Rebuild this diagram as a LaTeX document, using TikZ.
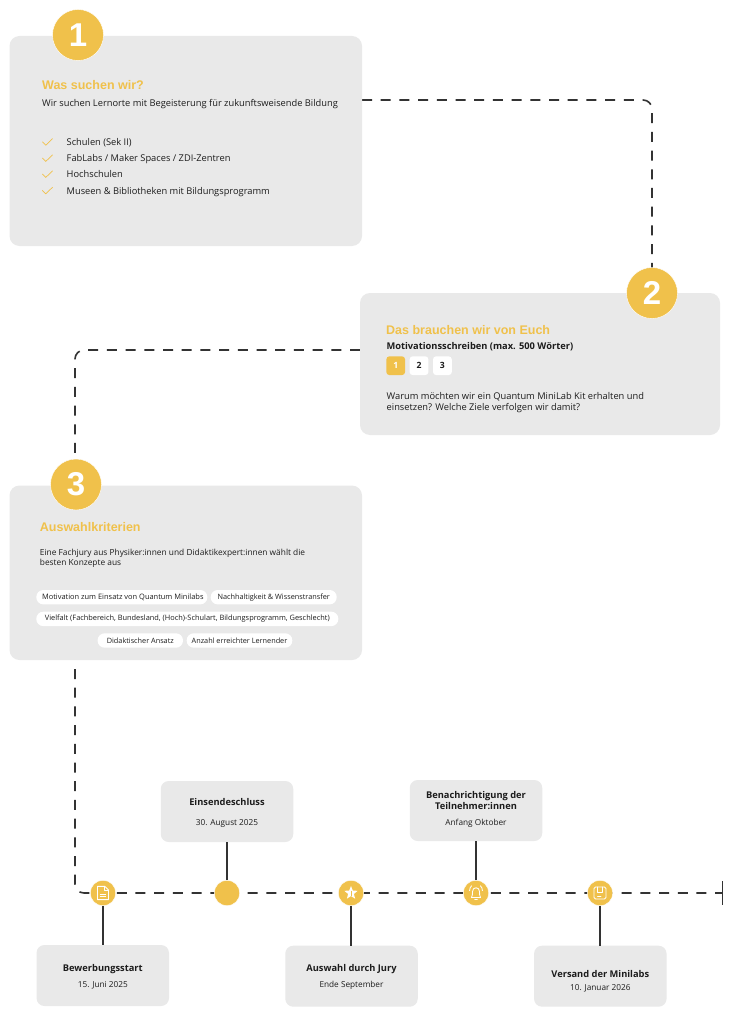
\documentclass[tikz,border=0pt]{standalone}
\usepackage{fontspec}
\setmainfont{Open Sans}
\newfontfamily\headfont{Liberation Sans}
\usetikzlibrary{shapes.geometric}
\definecolor{accent}{HTML}{F0C14B}
\definecolor{panel}{HTML}{E9E9E9}
\definecolor{ink}{HTML}{1C1C1C}
\definecolor{linec}{HTML}{333333}
\tikzset{
  x=1pt,y=-1pt,
  panelbox/.style={fill=panel,rounded corners=10pt,inner sep=0pt,minimum width=#1},
  numdisc/.style={circle,fill=accent,draw=white,line width=.4pt,minimum size=51pt,inner sep=0pt,text=white,font=\headfont\bfseries\fontsize{33}{33}\selectfont},
  tlbox/.style={fill=panel,rounded corners=8pt,inner sep=0pt,minimum width=132.5pt,minimum height=61pt},
  tldisc/.style={circle,fill=accent,draw=white,line width=.4pt,minimum size=25.5pt,inner sep=0pt},
  dashline/.style={draw=linec,line width=1.6pt,dash pattern=on 10pt off 8.7pt,rounded corners=9pt},
  stem/.style={draw=linec,line width=1.6pt},
  head/.style={anchor=base west,inner sep=0pt,text=accent,font=\headfont\bfseries\fontsize{12.5}{14}\selectfont},
  body/.style={anchor=base west,inner sep=0pt,text=ink,font=\fontsize{9.3}{11}\selectfont},
  pill/.style={fill=white,rounded corners=7pt,inner sep=0pt,minimum height=14.4pt,text=ink,font=\fontsize{7.3}{8}\selectfont},
  sq/.style={rounded corners=3pt,minimum size=18.7pt,inner sep=0pt,font=\bfseries\fontsize{8.6}{9}\selectfont},
  tltitle/.style={anchor=base,inner sep=0pt,text=ink,font=\bfseries\fontsize{9.3}{10}\selectfont},
  tldate/.style={anchor=base,inner sep=0pt,text=ink,font=\fontsize{8.25}{9}\selectfont},
  chk/.style={draw=accent,line width=.7pt},
  icon/.style={draw=white,line width=.85pt,line join=round,line cap=round},
}
\begin{document}
\begin{tikzpicture}
\useasboundingbox[fill=white] (0,0) rectangle (740,1024);

% connector ends
\coordinate (d1s) at (362,100);
\coordinate (d1c) at (652,100);
\coordinate (d1e) at (652,268);
\coordinate (d2s) at (360,350);
\coordinate (d2c) at (75,350);
\coordinate (d2e) at (75,460);
\coordinate (d3s) at (75,669);
\coordinate (d3c) at (75,893);
\coordinate (d3e) at (722.5,893);
\coordinate (tick1) at (722.5,881);
\coordinate (tick2) at (722.5,905);

\draw[dashline] (d1s) -- (d1c) -- (d1e);
\draw[dashline] (d2s) -- (d2c) -- (d2e);
\draw[dashline] (d3s) -- (d3c) -- (d3e);
\draw[stem] (tick1) -- (tick2);

% panels
\node[panelbox=352.5pt,minimum height=210pt] (box1) at (185.75,141) {};
\node[panelbox=360pt,minimum height=142pt] (box2) at (540,364) {};
\node[panelbox=352.5pt,minimum height=174.5pt] (box3) at (185.75,572.75) {};

\node[numdisc] (n1) at (78,35) {1};
\node[numdisc] (n2) at (652,293) {2};
\node[numdisc] (n3) at (76,484.5) {3};

% panel 1
\node[head] (h1) at (42,90) {Was suchen wir?};
\node[body] (t1) at (42,106.7) {Wir suchen Lernorte mit Begeisterung für zukunftsweisende Bildung};
\node[body] (l1) at (66.5,145.7) {Schulen (Sek II)};
\node[body] (l2) at (66.5,161.9) {FabLabs / Maker Spaces / ZDI-Zentren};
\node[body] (l3) at (66.5,178) {Hochschulen};
\node[body] (l4) at (66.5,194.4) {Museen \& Bibliotheken mit Bildungsprogramm};
\foreach \yy in {145.2,161.4,177.4,193.8}{
  \draw[chk] (42.3,\yy-3.4) -- (45.8,\yy) -- (52.6,\yy-6.6);
}

% panel 2
\node[head] (h2) at (386,334) {Das brauchen wir von Euch};
\node[body,font=\bfseries\fontsize{9.3}{11}\selectfont] (t2) at (386.3,349) {Motivationsschreiben (max. 500 Wörter)};
\node[sq,fill=accent,text=white] (s1) at (395.7,365.7) {1};
\node[sq,fill=white,text=ink] (s2) at (419,365.7) {2};
\node[sq,fill=white,text=ink] (s3) at (442.4,365.7) {3};
\node[body] (t2a) at (386.5,399) {Warum möchten wir ein Quantum MiniLab Kit erhalten und};
\node[body] (t2b) at (386.5,410.3) {einsetzen? Welche Ziele verfolgen wir damit?};

% panel 3
\node[head] (h3) at (39.7,531.7) {Auswahlkriterien};
\node[body,font=\fontsize{8.35}{11}\selectfont] (t3a) at (39.7,555) {Eine Fachjury aus Physiker:innen und Didaktikexpert:innen wählt die};
\node[body,font=\fontsize{8.35}{11}\selectfont] (t3b) at (39.7,565.9) {besten Konzepte aus};
\node[pill,minimum width=171pt,font=\fontsize{7.45}{8}\selectfont] (p1) at (121.8,597.2) {\hspace{2pt}Motivation zum Einsatz von Quantum Minilabs};
\node[pill,minimum width=126pt] (p2) at (273.7,597.2) {Nachhaltigkeit \& Wissenstransfer};
\node[pill,minimum width=302pt,font=\fontsize{7.4}{8}\selectfont] (p3) at (187.3,618.9) {Vielfalt (Fachbereich, Bundesland, (Hoch)-Schulart, Bildungsprogramm, Geschlecht)};
\node[pill,minimum width=85.4pt] (p4) at (140.3,640.5) {Didaktischer Ansatz};
\node[pill,minimum width=105.6pt] (p5) at (239.5,640.5) {Anzahl erreichter Lernender};

% timeline boxes
\node[tlbox] (b1) at (102.75,975.5) {};
\node[tlbox] (b2) at (227,811.5) {};
\node[tlbox] (b3) at (351.5,976.2) {};
\node[tlbox] (b4) at (476,810.5) {};
\node[tlbox] (b5) at (600.3,976.2) {};

\node[tldisc] (c1) at (103,893) {};
\node[tldisc] (c2) at (227,893) {};
\node[tldisc] (c3) at (351,893) {};
\node[tldisc] (c4) at (476,893) {};
\node[tldisc] (c5) at (600,893) {};

\draw[stem] (c1) -- (c1 |- b1.north);
\draw[stem] (c2) -- (c2 |- b2.south);
\draw[stem] (c3) -- (c3 |- b3.north);
\draw[stem] (c4) -- (c4 |- b4.south);
\draw[stem] (c5) -- (c5 |- b5.north);

\node[tltitle] (b1t) at (102.8,971.7) {Bewerbungsstart};
\node[tldate] (b1d) at (102.8,987.7) {15. Juni 2025};
\node[tltitle] (b2t) at (227,805) {Einsendeschluss};
\node[tldate] (b2d) at (227,825) {30. August 2025};
\node[tltitle] (b3t) at (351.5,971.7) {Auswahl durch Jury};
\node[tldate] (b3d) at (351.5,987.7) {Ende September};
\node[tltitle] (b4t) at (476,798) {Benachrichtigung der};
\node[tltitle] (b4u) at (476,809) {Teilnehmer:innen};
\node[tldate] (b4d) at (476,825) {Anfang Oktober};
\node[tltitle] (b5t) at (600.3,977.7) {Versand der Minilabs};
\node[tldate] (b5d) at (600.3,990) {10. Januar 2026};

% icons
\begin{scope}[shift={(103,893)}]
  \draw[icon] (-5.5,-6.6) -- (1.8,-6.6) -- (5.5,-3) -- (5.5,6.6) -- (-5.5,6.6) -- cycle;
  \draw[icon] (1.8,-6.6) -- (1.8,-3) -- (5.5,-3);
  \draw[icon] (-2.6,1) -- (2.6,1);
  \draw[icon] (-2.6,3.6) -- (2.6,3.6);
\end{scope}
\node[star,star points=5,star point ratio=2.3,fill=white,minimum size=14pt,inner sep=0pt] (starico) at (351,893) {};
\draw[accent,line width=.8pt] (351.5,890.5) -- (351.5,895.5);
\begin{scope}[shift={(476,893)}]
  \draw[icon] (-4.5,4.5) .. controls (-3.5,2.5) and (-3.5,1) .. (-3.5,-1.5) .. controls (-3.5,-6.5) and (3.5,-6.5) .. (3.5,-1.5) .. controls (3.5,1) and (3.5,2.5) .. (4.5,4.5) -- cycle;
  \draw[icon] (-1.3,6.6) -- (1.3,6.6);
  \draw[icon] (-6.4,-2.5) .. controls (-6.4,-4.6) and (-5.6,-6) .. (-4.4,-7.2);
  \draw[icon] (6.4,-2.5) .. controls (6.4,-4.6) and (5.6,-6) .. (4.4,-7.2);
\end{scope}
\begin{scope}[shift={(600,893)}]
  \draw[icon,rounded corners=1.5pt] (-6,-6) rectangle (6,6);
  \draw[icon] (-2.8,-6) -- (-2.8,-1) -- (2.8,-1) -- (2.8,-6);
  \draw[icon] (-2.4,3) -- (1,3);
\end{scope}
\end{tikzpicture}
\end{document}
